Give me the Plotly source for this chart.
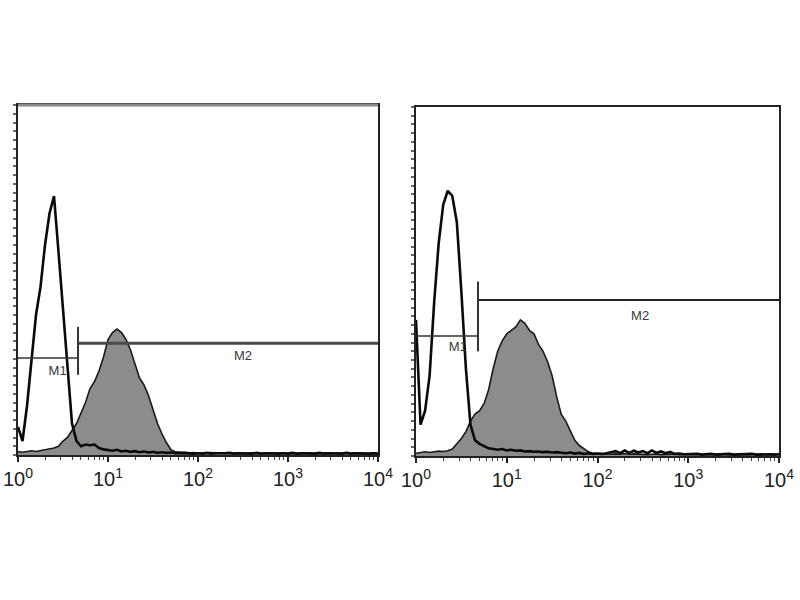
import plotly.graph_objects as go

# ---- data (histogram heights as fraction of full y scale, bins every 0.05 decade) ----
BIN_STEP = 0.05

left_isotype = [
    0.08, 0.04, 0.14, 0.27, 0.40, 0.48, 0.60, 0.69, 0.74, 0.58,
    0.42, 0.27, 0.09, 0.04, 0.025, 0.03, 0.028, 0.03, 0.02, 0.016,
    0.014, 0.012, 0.015, 0.010, 0.012, 0.009, 0.011, 0.008, 0.010, 0.007,
    0.009, 0.006, 0.008, 0.006, 0.007, 0.005, 0.006, 0.005, 0.006, 0.004,
    0.005, 0.004, 0.006, 0.004, 0.005, 0.004, 0.005, 0.006, 0.004, 0.005,
    0.004, 0.005, 0.004, 0.006, 0.004, 0.005, 0.004, 0.005, 0.004, 0.005,
    0.004, 0.006, 0.004, 0.005, 0.004, 0.005, 0.004, 0.006, 0.004, 0.005,
    0.004, 0.005, 0.004, 0.006, 0.004, 0.005, 0.004, 0.005, 0.004, 0.005,
    0.004,
]
left_stained = [
    0.010, 0.008, 0.010, 0.012, 0.010, 0.012, 0.014, 0.016, 0.020, 0.025,
    0.040, 0.050, 0.070, 0.090, 0.120, 0.150, 0.190, 0.210, 0.240, 0.280,
    0.330, 0.350, 0.360, 0.350, 0.330, 0.300, 0.260, 0.220, 0.200, 0.170,
    0.130, 0.090, 0.060, 0.035, 0.015, 0.009, 0.007, 0.008, 0.006, 0.007,
    0.005, 0.006, 0.005, 0.007, 0.005, 0.006, 0.005, 0.006, 0.004, 0.006,
    0.005, 0.004, 0.006, 0.005, 0.004, 0.006, 0.005, 0.004, 0.005, 0.006,
    0.004, 0.005, 0.004, 0.006, 0.005, 0.004, 0.005, 0.004, 0.006, 0.004,
    0.005, 0.004, 0.005, 0.006, 0.004, 0.005, 0.004, 0.005, 0.004, 0.005,
    0.004,
]
right_isotype = [
    0.39, 0.09, 0.13, 0.23, 0.44, 0.61, 0.72, 0.76, 0.745, 0.67,
    0.47, 0.25, 0.09, 0.045, 0.035, 0.028, 0.022, 0.020, 0.018, 0.020,
    0.016, 0.018, 0.015, 0.016, 0.013, 0.014, 0.012, 0.013, 0.011, 0.012,
    0.010, 0.011, 0.009, 0.008, 0.010, 0.007, 0.009, 0.006, 0.008, 0.006,
    0.007, 0.006, 0.008, 0.010, 0.014, 0.008, 0.016, 0.009, 0.015, 0.010,
    0.014, 0.008, 0.016, 0.009, 0.013, 0.008, 0.012, 0.006, 0.007, 0.005,
    0.006, 0.005, 0.006, 0.004, 0.005, 0.006, 0.004, 0.005, 0.004, 0.006,
    0.004, 0.005, 0.004, 0.005, 0.006, 0.004, 0.005, 0.004, 0.005, 0.004,
    0.005,
]
right_stained = [
    0.008, 0.010, 0.012, 0.010, 0.012, 0.014, 0.013, 0.015, 0.020, 0.035,
    0.050, 0.070, 0.100, 0.120, 0.130, 0.150, 0.190, 0.250, 0.300, 0.330,
    0.350, 0.360, 0.370, 0.390, 0.380, 0.360, 0.350, 0.320, 0.300, 0.270,
    0.230, 0.170, 0.120, 0.100, 0.070, 0.045, 0.030, 0.022, 0.012, 0.008,
    0.007, 0.006, 0.007, 0.005, 0.006, 0.005, 0.007, 0.005, 0.006, 0.005,
    0.006, 0.004, 0.005, 0.006, 0.004, 0.005, 0.004, 0.006, 0.004, 0.005,
    0.004, 0.005, 0.006, 0.004, 0.005, 0.004, 0.005, 0.004, 0.006, 0.004,
    0.005, 0.004, 0.005, 0.004, 0.006, 0.004, 0.005, 0.004, 0.005, 0.004,
    0.005,
]

# marker gates (in decades) and their heights (fraction of y scale)
left_m1 = {"x0": 0.0, "x1": 0.667, "y": 0.277}
left_m2 = {"x0": 0.667, "x1": 4.0, "y": 0.319}
left_bar = {"x": 0.667, "y0": 0.229, "y1": 0.366}
right_m1 = {"x0": 0.0, "x1": 0.683, "y": 0.344}
right_m2 = {"x0": 0.683, "x1": 4.0, "y": 0.447}
right_bar = {"x": 0.683, "y0": 0.30, "y1": 0.50}
left_labels = {"M1": (0.44, 0.237), "M2": (2.5, 0.28)}
right_labels = {"M1": (0.46, 0.31), "M2": (2.47, 0.40)}

tick_vals = [1, 10, 100, 1000, 10000]
tick_text = ["10<sup>0</sup>", "10<sup>1</sup>", "10<sup>2</sup>", "10<sup>3</sup>", "10<sup>4</sup>"]
minor_vals = [m * d for d in (1, 10, 100, 1000) for m in range(2, 10)]


def grid(vals):
    return [10 ** (i * BIN_STEP) for i in range(len(vals))]


fig = go.Figure()

panels = [
    ("x", "y", left_isotype, left_stained, left_m1, left_m2, left_bar, left_labels, "#4a4a4a", 3),
    ("x2", "y2", right_isotype, right_stained, right_m1, right_m2, right_bar, right_labels, "#222222", 2),
]

for xa, ya, iso, stn, m1, m2, bar, labels, gate_col, gate_w in panels:
    fig.add_trace(go.Scatter(
        x=grid(stn), y=stn, xaxis=xa, yaxis=ya, mode="lines",
        fill="tozeroy", fillcolor="#8c8c8c",
        line=dict(color="#1a1a1a", width=1.6), showlegend=False, hoverinfo="skip"))
    fig.add_trace(go.Scatter(
        x=grid(iso), y=iso, xaxis=xa, yaxis=ya, mode="lines",
        line=dict(color="#0a0a0a", width=2.6), showlegend=False, hoverinfo="skip"))
    # gates
    fig.add_trace(go.Scatter(
        x=[10 ** m1["x0"], 10 ** m1["x1"]], y=[m1["y"], m1["y"]], xaxis=xa, yaxis=ya,
        mode="lines", line=dict(color="#333333", width=1.6), showlegend=False, hoverinfo="skip"))
    fig.add_trace(go.Scatter(
        x=[10 ** m2["x0"], 10 ** m2["x1"]], y=[m2["y"], m2["y"]], xaxis=xa, yaxis=ya,
        mode="lines", line=dict(color=gate_col, width=gate_w), showlegend=False, hoverinfo="skip"))
    fig.add_trace(go.Scatter(
        x=[10 ** bar["x"], 10 ** bar["x"]], y=[bar["y0"], bar["y1"]], xaxis=xa, yaxis=ya,
        mode="lines", line=dict(color="#333333", width=2), showlegend=False, hoverinfo="skip"))
    fig.add_trace(go.Scatter(
        x=[10 ** v[0] for v in labels.values()], y=[v[1] for v in labels.values()],
        text=list(labels.keys()), xaxis=xa, yaxis=ya, mode="text",
        textfont=dict(family="Liberation Sans", size=13, color="#3a3a3a"),
        showlegend=False, hoverinfo="skip"))

xcommon = dict(
    type="log", range=[0, 4], tickmode="array", tickvals=tick_vals, ticktext=tick_text,
    ticks="outside", ticklen=5, tickwidth=1.5, tickcolor="#222",
    showline=True, linecolor="#222", linewidth=2, mirror=True,
    showgrid=False, zeroline=False, automargin=False,
    tickfont=dict(family="Liberation Sans", size=20, color="#222"),
    minor=dict(tickmode="array", tickvals=minor_vals, ticks="outside", ticklen=3,
               tickwidth=1.2, tickcolor="#444", showgrid=False),
)
ycommon = dict(
    range=[0, 1], dtick=0.025, ticks="outside", ticklen=3, tickwidth=1.5, tickcolor="#666",
    showticklabels=False, showline=True, linecolor="#222", linewidth=2, mirror=True,
    showgrid=False, zeroline=False, automargin=False,
)

fig.update_layout(
    width=800, height=600, margin=dict(l=0, r=0, t=0, b=0, autoexpand=False),
    paper_bgcolor="white", plot_bgcolor="white",
    xaxis=dict(domain=[18 / 800, 378 / 800], anchor="y", **xcommon),
    yaxis=dict(domain=[1 - 455 / 600, 1 - 105 / 600], anchor="x", **ycommon),
    xaxis2=dict(domain=[416 / 800, 779 / 800], anchor="y2", **xcommon),
    yaxis2=dict(domain=[1 - 456 / 600, 1 - 107 / 600], anchor="x2", **ycommon),
    shapes=[dict(type="line", xref="x domain", yref="y domain", x0=0, x1=1, y0=1, y1=1,
                 line=dict(color="#8a8a8a", width=3))],
)

fig.write_html("out.html", config={"displayModeBar": False},
               post_script="document.body.style.margin='0';")
